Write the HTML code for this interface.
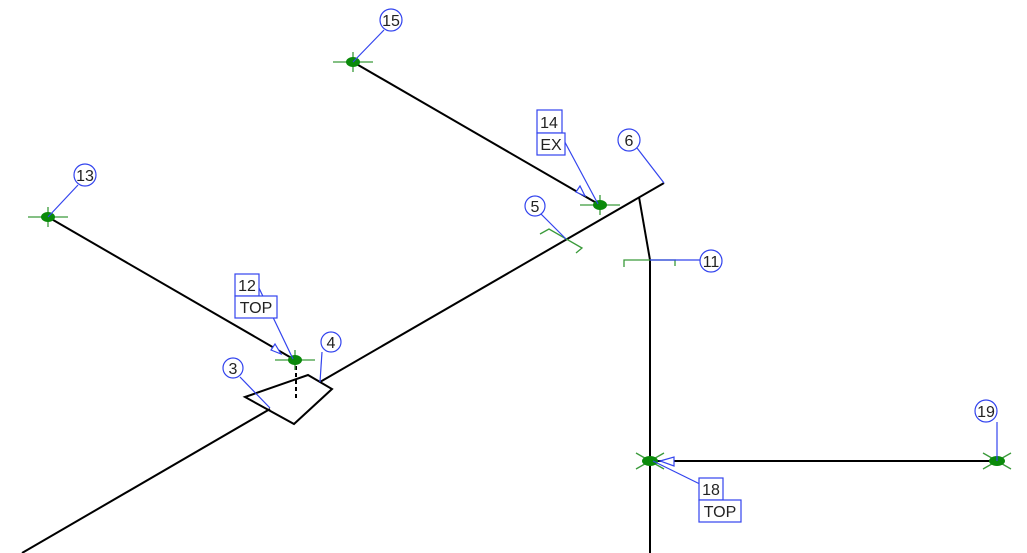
<!DOCTYPE html>
<html><head><meta charset="utf-8"><style>html,body{margin:0;padding:0;background:#fff}svg{display:block}text{font-family:"Liberation Sans",sans-serif;font-size:16px;fill:#222}</style></head>
<body>
<svg width="1027" height="553" viewBox="0 0 1027 553" xmlns="http://www.w3.org/2000/svg">
<g stroke="#000" stroke-width="2" fill="none">
<line x1="22" y1="553" x2="270" y2="409"/>
<polygon points="245,397 308,375 332,389 294,424"/>
<line x1="320" y1="382" x2="664" y2="183"/>
<line x1="639" y1="197" x2="650" y2="260"/>
<line x1="650" y1="260" x2="650" y2="553"/>
<line x1="650" y1="461" x2="997" y2="461"/>
<line x1="48" y1="217" x2="295" y2="360"/>
<line x1="353" y1="62" x2="600" y2="205"/>
<line x1="296" y1="366" x2="296" y2="398" stroke-dasharray="4,3"/>
</g>
<g stroke="#3a9a3a" stroke-width="1.3" fill="none">
<path d="M333 62h40M353 52v20M28 217h40M48 207v20M580 205h40M600 195v20M275 360h40M295 350v20"/>
<path d="M636 453l28 16M636 469l28-16M983 453l28 16M983 469l28-16"/>
<polyline points="540,234 549,229 582,248 576,253"/>
<polyline points="624,267 624,260 676,260"/><line x1="675" y1="260" x2="675" y2="266"/>
</g>
<g fill="#0a8a0a">
<ellipse cx="353" cy="62" rx="7" ry="5"/><ellipse cx="48" cy="217" rx="7" ry="5"/><ellipse cx="600" cy="205" rx="7" ry="5"/><ellipse cx="295" cy="360" rx="7" ry="5"/><ellipse cx="650" cy="461" rx="8" ry="5"/><ellipse cx="997" cy="461" rx="8" ry="5"/>
</g>
<g stroke="#3344ee" stroke-width="1.2" fill="#fff">
<line x1="384" y1="30" x2="353" y2="62"/><line x1="78" y1="185" x2="48" y2="217"/><line x1="637" y1="148" x2="664" y2="183"/><line x1="541" y1="214" x2="566" y2="239"/><line x1="322" y1="352" x2="320" y2="382"/><line x1="240" y1="377" x2="270" y2="408"/><line x1="650" y1="260" x2="700" y2="260"/><line x1="997" y1="422" x2="997" y2="461"/>
<line x1="258" y1="286" x2="293" y2="359"/><polygon points="281,354 271,350 275,344"/>
<line x1="560" y1="133" x2="598" y2="204"/><polygon points="585,196 576,192 580,186"/>
<line x1="710" y1="489" x2="653" y2="461"/><polygon points="674,457 674,466 660,461"/>
<circle cx="391" cy="20" r="11"/><circle cx="85" cy="175" r="11"/><circle cx="629" cy="140" r="11"/><circle cx="535" cy="206" r="10"/><circle cx="331" cy="342" r="10"/><circle cx="233" cy="368" r="10"/><circle cx="711" cy="261" r="11"/><circle cx="986" cy="411" r="11"/>
<rect x="235" y="274" width="24" height="22"/><rect x="235" y="296" width="42" height="22"/>
<rect x="537" y="110" width="25" height="23"/><rect x="537" y="133" width="28" height="22"/>
<rect x="699" y="478" width="24" height="22"/><rect x="699" y="500" width="42" height="22"/>
</g>
<g text-anchor="middle">
<text x="391" y="26">15</text><text x="85" y="181">13</text><text x="629" y="146">6</text><text x="535" y="212">5</text><text x="331" y="348">4</text><text x="233" y="374">3</text><text x="711" y="267">11</text><text x="986" y="417">19</text>
<text x="247" y="291">12</text><text x="256" y="313">TOP</text><text x="549" y="128">14</text><text x="551" y="150">EX</text><text x="711" y="495">18</text><text x="720" y="517">TOP</text>
</g>
</svg>
</body></html>
